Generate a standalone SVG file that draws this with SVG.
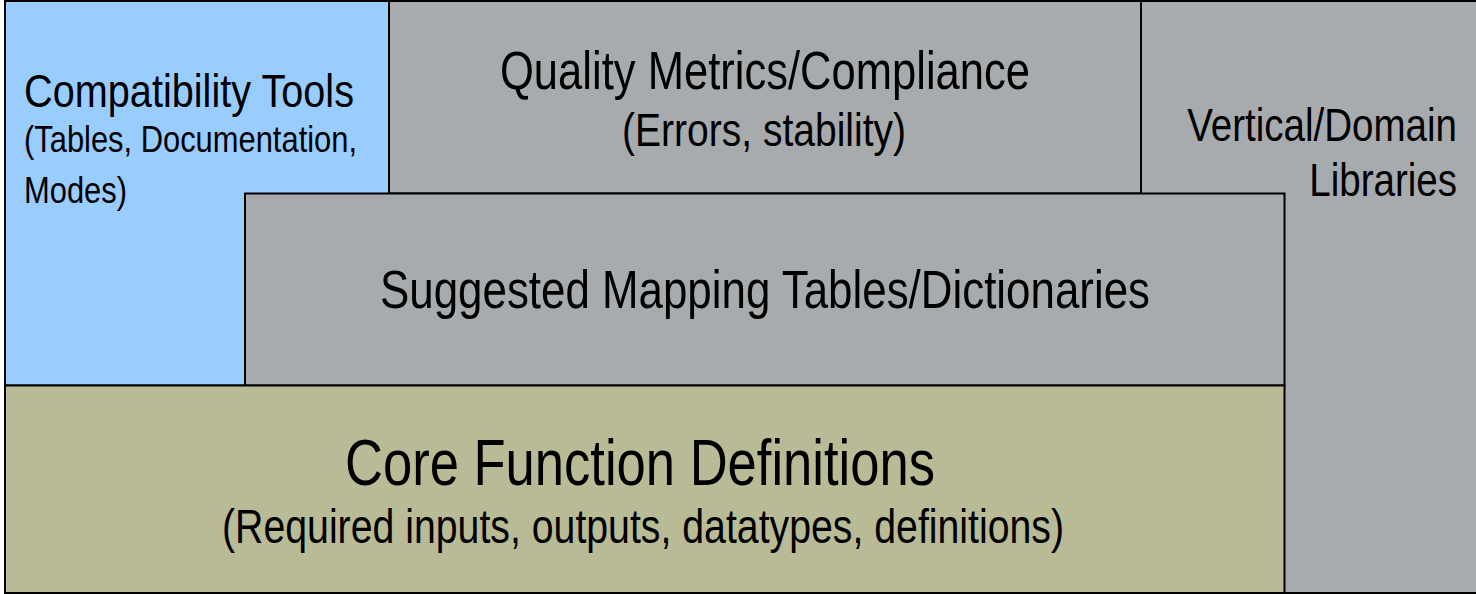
<svg xmlns="http://www.w3.org/2000/svg" width="1476" height="594" viewBox="0 0 1476 594">
  <style>
    .box { stroke: #000000; stroke-width: 2; }
    .edge { fill: none; stroke: #000000; stroke-width: 2; }
    .gray { fill: #A7ABAE; }
    .blue { fill: #99CCFF; }
    .olive { fill: #B8BB96; }
    text { font-family: "Liberation Sans Narrow", "Liberation Sans", Arial, sans-serif; fill: #000000; }
    .right { text-anchor: end; }
  </style>
  <rect x="0" y="0" width="1476" height="594" fill="#FFFFFF"/>

  <!-- layered stack: back layers first -->
  <g id="vertical-domain-libraries">
    <rect class="gray" x="1141" y="1" width="335" height="592"/>
    <!-- open on the right: the layer runs past the page edge -->
    <path class="edge" d="M1476,1 H1141 V593 H1476"/>
    <!-- narrowed type, right-aligned against the page edge -->
    <text class="right" transform="translate(1457,141) scale(0.82,1)" font-size="47">Vertical/Domain</text>
    <text class="right" transform="translate(1457,196) scale(0.82,1)" font-size="47">Libraries</text>
  </g>

  <g id="quality-metrics">
    <rect class="box gray" x="389" y="1" width="752" height="192.5"/>
    <text x="500" y="89" font-size="53" textLength="530" lengthAdjust="spacingAndGlyphs">Quality Metrics/Compliance</text>
    <text x="622" y="146" font-size="47" textLength="284" lengthAdjust="spacingAndGlyphs">(Errors, stability)</text>
  </g>

  <g id="compatibility-tools">
    <rect class="box blue" x="5" y="1" width="384" height="384.5"/>
    <text x="24" y="107" font-size="47" textLength="330" lengthAdjust="spacingAndGlyphs">Compatibility Tools</text>
    <text x="24" y="152" font-size="37" textLength="333" lengthAdjust="spacingAndGlyphs">(Tables, Documentation,</text>
    <text x="24" y="203" font-size="37" textLength="103" lengthAdjust="spacingAndGlyphs">Modes)</text>
  </g>

  <g id="mapping-tables">
    <rect class="box gray" x="245" y="193.5" width="1039.5" height="192"/>
    <text x="380" y="308" font-size="53" textLength="770" lengthAdjust="spacingAndGlyphs">Suggested Mapping Tables/Dictionaries</text>
  </g>

  <g id="core-functions">
    <rect class="box olive" x="5" y="385.5" width="1279.5" height="207.5"/>
    <text x="345" y="485" font-size="64" textLength="590" lengthAdjust="spacingAndGlyphs">Core Function Definitions</text>
    <text x="222" y="543" font-size="48" textLength="842" lengthAdjust="spacingAndGlyphs">(Required inputs, outputs, datatypes, definitions)</text>
  </g>

  <!-- the stack has no connectors -->
  <g id="connectors"/>
</svg>
